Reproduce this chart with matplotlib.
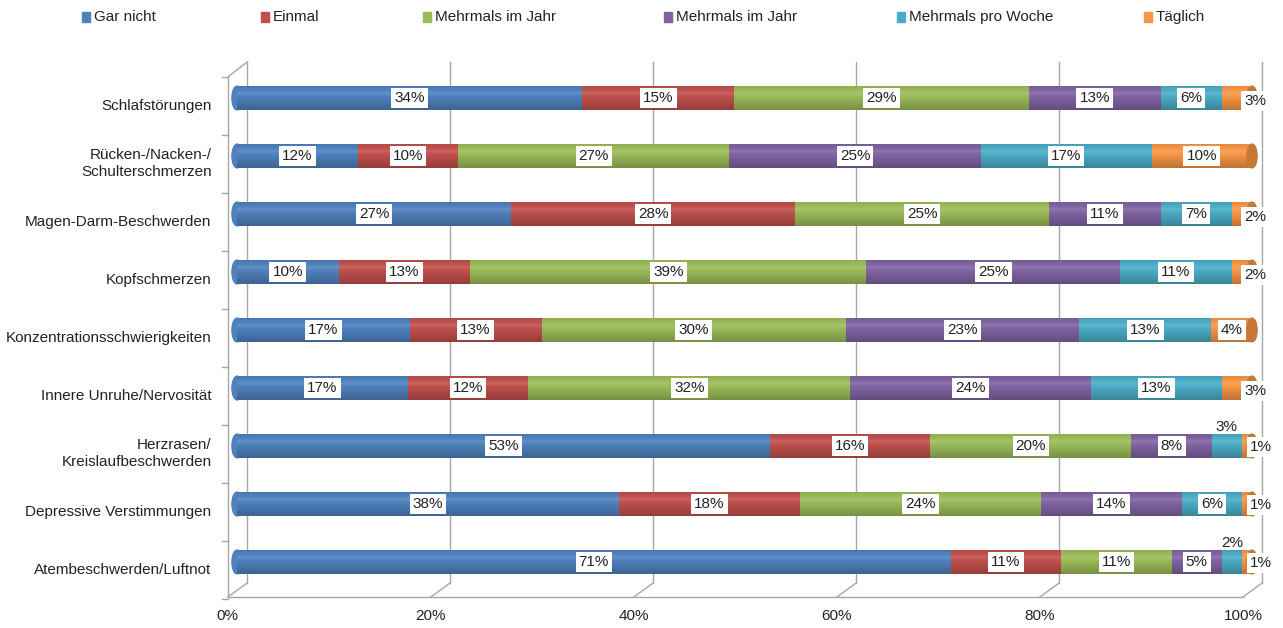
import numpy as np
import matplotlib.pyplot as plt
import matplotlib.colors as mcolors
from matplotlib.patches import Ellipse, Rectangle

plt.rcParams['font.family'] = ['Liberation Sans', 'DejaVu Sans']

categories = [
    'Schlafstörungen',
    'Rücken-/Nacken-/\nSchulterschmerzen',
    'Magen-Darm-Beschwerden',
    'Kopfschmerzen',
    'Konzentrationsschwierigkeiten',
    'Innere Unruhe/Nervosität',
    'Herzrasen/\nKreislaufbeschwerden',
    'Depressive Verstimmungen',
    'Atembeschwerden/Luftnot',
]
series = ['Gar nicht', 'Einmal', 'Mehrmals im Jahr', 'Mehrmals im Jahr',
          'Mehrmals pro Woche', 'Täglich']
gar_nicht = [34, 12, 27, 10, 17, 17, 53, 38, 71]
einmal = [15, 10, 28, 13, 13, 12, 16, 18, 11]
mehrmals_jahr_a = [29, 27, 25, 39, 30, 32, 20, 24, 11]
mehrmals_jahr_b = [13, 25, 11, 25, 23, 24, 8, 14, 5]
mehrmals_woche = [6, 17, 7, 11, 13, 13, 3, 6, 2]
taeglich = [3, 10, 2, 2, 4, 3, 1, 1, 1]
xticks = [0, 20, 40, 60, 80, 100]

colors = ['#4F81BD', '#C0504D', '#9BBB59', '#8064A2', '#4BACC6', '#F79646']

values = np.array([gar_nicht, einmal, mehrmals_jahr_a, mehrmals_jahr_b,
                   mehrmals_woche, taeglich], dtype=float)
shares = values / values.sum(axis=0) * 100

fig = plt.figure(figsize=(12.83, 6.28), dpi=100)
# axes in pixel terms: x 200..1270, y 50..610
ax = fig.add_axes([200 / 1283, 18 / 628, 1070 / 1283, 560 / 628])
ax.set_xlim(-3.645, 101.77)
ax.set_ylim(8.8276, -0.8276)
ax.axis('off')

back = 1.0     # offset of the back wall
front = -0.9   # offset of the front axis
y_top_back, y_bot_back = -0.621, 8.362
y_top_front, y_floor = -0.362, 8.603
grey = '#A6A6A6'

# back wall gridlines and floor diagonals
for g in xticks:
    ax.plot([g + back, g + back], [y_top_back, y_bot_back], color=grey, lw=1, zorder=1)
    ax.plot([g + front, g + back], [y_floor, y_bot_back], color=grey, lw=1, zorder=1)
    ax.text(g + front, y_floor + 0.33, f'{g}%', ha='center', va='center',
            fontsize=11, color='#222222')
ax.plot([front, 100 + front], [y_floor, y_floor], color=grey, lw=1, zorder=1)
# left wall
ax.plot([front, front], [y_top_front, y_floor], color=grey, lw=1, zorder=1)
ax.plot([front, back], [y_top_front, y_top_back], color=grey, lw=1, zorder=1)
for k in range(10):
    yk = y_top_front + k
    ax.plot([front - 0.6, front], [yk, yk], color=grey, lw=1, zorder=1)

# shading profile for cylinder look
prof = np.linspace(0, 1, 40)
light = 1.0 - 0.55 * np.abs(prof - 0.3) / 0.7
light = np.clip(light, 0.45, 1.0)


def shaded(color):
    rgb = np.array(mcolors.to_rgb(color))
    out = []
    for l in light:
        if l > 0.9:
            c = rgb + (1 - rgb) * (l - 0.9) * 1.2
        else:
            c = rgb * (0.55 + 0.45 * l / 0.9)
        out.append(np.clip(c, 0, 1))
    return np.array(out)[:, None, :]


h = 0.41
for i in range(len(categories)):
    left = 0.0
    ax.add_patch(Ellipse((0, i), 1.0, h, color=colors[0], zorder=2))
    for s in range(len(series)):
        w = shares[s, i]
        ax.imshow(shaded(colors[s]), extent=(left, left + w, i + h / 2, i - h / 2),
                  aspect='auto', interpolation='bilinear', zorder=3)
        left += w
    last = np.array(mcolors.to_rgb(colors[-1])) * 0.8
    ax.add_patch(Ellipse((100, i), 1.0, h, color=last, zorder=4))

# data labels
box = dict(boxstyle='square,pad=0.2', fc='white', ec='none')
for i in range(len(categories)):
    left = 0.0
    for s in range(len(series)):
        w = shares[s, i]
        v = int(values[s, i])
        cx = left + w / 2
        cy = i
        bb = box
        if s == 5 and v <= 1:
            cx, cy = 100.9, i + 0.02
        elif s == 5 and v <= 3:
            cx, cy = 100.3, i + 0.05
        elif s == 4 and v <= 3:
            cy, bb = i - 0.33, None
        ax.text(cx, cy, f'{v}%', ha='center', va='center', fontsize=11,
                color='#222222', bbox=bb, zorder=6)
        left += w
    ax.text(-2.5, i + 0.13, categories[i], ha='right', va='center', fontsize=11,
            color='#222222', multialignment='right', linespacing=1.2)

# legend across the top
leg_x = [82, 261, 423, 664, 897, 1144]
for x, name, c in zip(leg_x, series, colors):
    fig.patches.append(Rectangle((x / 1283, 1 - 22 / 628), 8 / 1283, 10 / 628,
                                 transform=fig.transFigure, color=c))
    fig.text((x + 12) / 1283, 1 - 17 / 628, name, ha='left', va='center',
             fontsize=11, color='#222222')

fig.savefig('out.png', dpi=100)
